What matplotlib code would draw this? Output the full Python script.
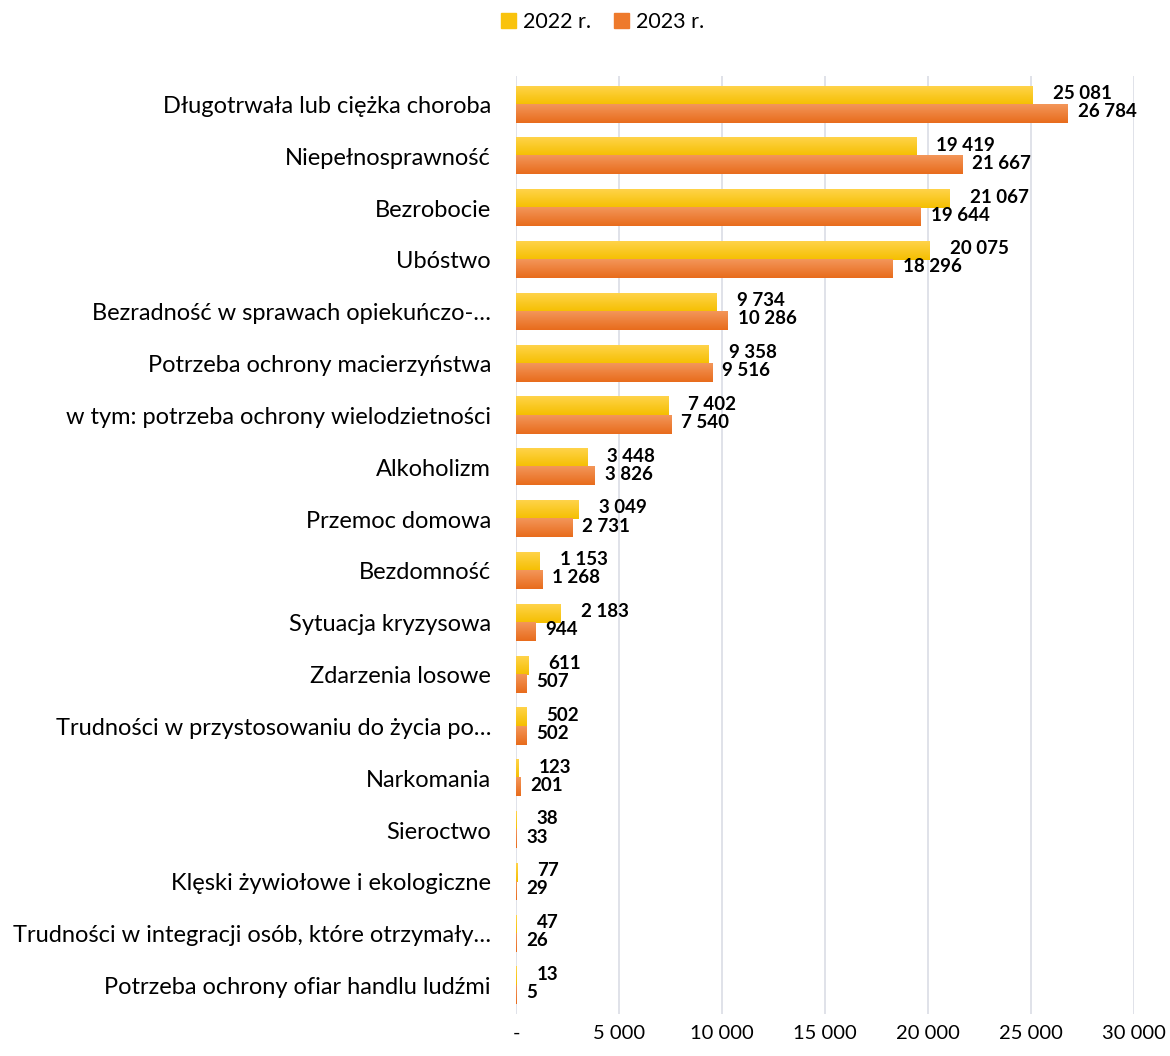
import matplotlib
matplotlib.use("Agg")
import matplotlib.pyplot as plt
import numpy as np
from matplotlib.colors import LinearSegmentedColormap
from matplotlib.patches import Rectangle

categories = [
    "Długotrwała lub ciężka choroba",
    "Niepełnosprawność",
    "Bezrobocie",
    "Ubóstwo",
    "Bezradność w sprawach opiekuńczo-…",
    "Potrzeba ochrony macierzyństwa",
    "w tym: potrzeba ochrony wielodzietności",
    "Alkoholizm",
    "Przemoc domowa",
    "Bezdomność",
    "Sytuacja kryzysowa",
    "Zdarzenia losowe",
    "Trudności w przystosowaniu do życia po…",
    "Narkomania",
    "Sieroctwo",
    "Klęski żywiołowe i ekologiczne",
    "Trudności w integracji osób, które otrzymały…",
    "Potrzeba ochrony ofiar handlu ludźmi",
]
values_2022 = [25081, 19419, 21067, 20075, 9734, 9358, 7402, 3448, 3049, 1153, 2183, 611, 502, 123, 38, 77, 47, 13]
values_2023 = [26784, 21667, 19644, 18296, 10286, 9516, 7540, 3826, 2731, 1268, 944, 507, 502, 201, 33, 29, 26, 5]
series_names = ["2022 r.", "2023 r."]
xticks = [0, 5000, 10000, 15000, 20000, 25000, 30000]
xtick_labels = ["-", "5 000", "10 000", "15 000", "20 000", "25 000", "30 000"]

FONT = "Lato"
plt.rcParams["font.family"] = [FONT, "DejaVu Sans"]

fig = plt.figure(figsize=(11.70, 10.56), dpi=100)
ax = fig.add_axes([516/1170, 1 - 1014/1056, (1134-516)/1170, (1014-76)/1056])

n = len(categories)
y = np.arange(n)
h = 0.35

cmap_y = LinearSegmentedColormap.from_list("y", ["#ffd34a", "#f5bf00"])
cmap_o = LinearSegmentedColormap.from_list("o", ["#f3965a", "#e86c1c"])
grad = np.linspace(0, 1, 50).reshape(-1, 1)

def gbar(x0, yc, w, hh, cmap):
    if w <= 0:
        return
    ax.imshow(grad, cmap=cmap, aspect="auto",
              extent=[x0, x0 + w, yc + hh/2, yc - hh/2], zorder=3,
              interpolation="bilinear")

for i in range(n):
    gbar(0, y[i] - h/2, values_2022[i], h, cmap_y)
    gbar(0, y[i] + h/2, values_2023[i], h, cmap_o)
    ax.annotate(f"{values_2022[i]:,}".replace(",", " "), (values_2022[i], y[i] - h/2 - 0.04),
                xytext=(20, 0), textcoords="offset pixels",
                ha="left", va="center", fontsize=13.5, fontweight="bold", color="black")
    ax.annotate(f"{values_2023[i]:,}".replace(",", " "), (values_2023[i], y[i] + h/2 - 0.04),
                xytext=(10, 0), textcoords="offset pixels",
                ha="left", va="center", fontsize=13.5, fontweight="bold", color="black")

ax.set_xlim(0, 30000)
ax.set_ylim(n - 0.5 + 0.05, -0.5 - 0.05)
ax.set_xticks(xticks)
ax.set_xticklabels(xtick_labels, fontsize=14.5)
ax.set_yticks(y)
ax.set_yticklabels(categories, fontsize=17)
ax.tick_params(axis="y", length=0, pad=18)
ax.tick_params(axis="x", length=0, pad=8)
ax.grid(axis="x", color="#dadde5", linewidth=1.2, zorder=0)
ax.set_axisbelow(True)
for s in ax.spines.values():
    s.set_visible(False)

handles = [Rectangle((0, 0), 1, 1, color="#f9c30d"), Rectangle((0, 0), 1, 1, color="#ee7a2c")]
fig.legend(handles, series_names, loc="center", bbox_to_anchor=(0.515, 1 - 22/1056), ncol=2,
           frameon=False, fontsize=15.5, handlelength=0.7, handleheight=0.7,
           handletextpad=0.3, columnspacing=1.1)

fig.savefig("out.png", dpi=100)
